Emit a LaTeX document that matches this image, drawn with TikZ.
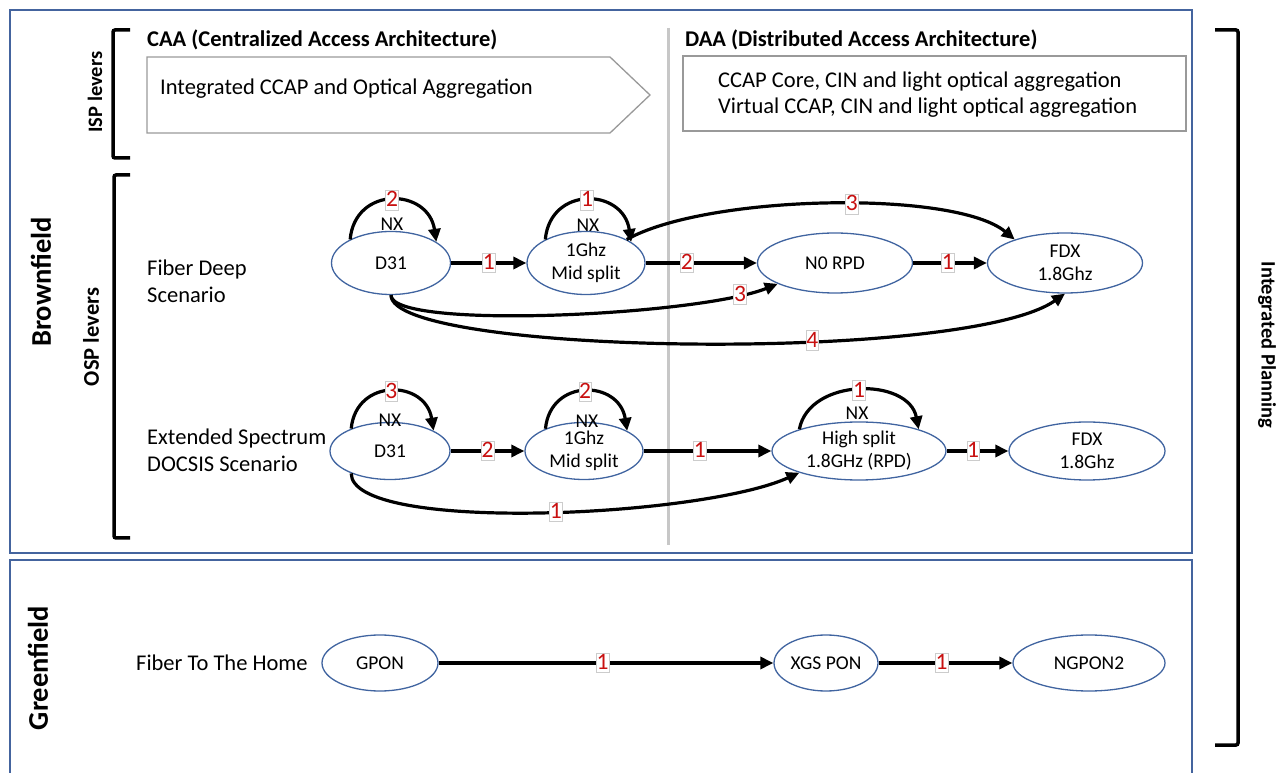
\documentclass[tikz,border=0pt]{standalone}
\usepackage{fontspec}
\setmainfont{Carlito}
\usetikzlibrary{arrows.meta,shapes.geometric,calc}
\definecolor{boxblue}{RGB}{68,100,158}
\definecolor{ellblue}{RGB}{64,100,160}
\definecolor{lblred}{RGB}{200,16,16}
\begin{document}
\begin{tikzpicture}[x=1pt,y=1pt,
  stage/.style={ellipse, draw=ellblue, line width=1.3pt, inner sep=0pt,
    font=\fontsize{19.5}{23}\selectfont, align=center},
  arr/.style={line width=3.2pt, -{Triangle[length=13pt,width=12pt]}},
  lbl/.style={fill=white, draw=black!20, line width=0.6pt, text=lblred,
    font=\fontsize{23.5}{23.5}\selectfont, inner xsep=0.4pt, inner ysep=1pt,
    text height=15.5pt, text depth=2pt},
  nx/.style={font=\fontsize{19.5}{19.5}\selectfont, inner sep=0pt},
  brk/.style={line width=3.5pt, rounded corners=2pt},
  txt/.style={inner sep=0pt, font=\fontsize{22.5}{27}\selectfont},
  head/.style={inner sep=0pt, font=\bfseries\fontsize{22.5}{27}\selectfont},
  area/.style={draw=boxblue, line width=1.4pt},
  graybox/.style={draw=black!40, line width=1.3pt},
  side/.style={inner sep=0pt, font=\bfseries\fontsize{28.5}{30}\selectfont}
]
\useasboundingbox (0,0) rectangle (1278,772);

% areas
\draw[area] (10,762) rectangle (1192,219);
\draw[area] (10,-2) -- (10,212) -- (1192,212) -- (1192,-2);

% separator
\draw[black!22, line width=3pt] (668,744) -- (668,227);

% brackets
\draw[brk] (130,742) -- (113,742) -- (113,614) -- (130,614);
\draw[brk] (130,597) -- (114,597) -- (114,234) -- (130,234);
\draw[brk] (1215,742) -- (1238,742) -- (1238,27) -- (1215,27);

% side labels
\node[side, rotate=90] (brown) at (41,490) {Brownfield};
\node[side, rotate=90] (green) at (38,104) {Greenfield};
\node[inner sep=0pt, font=\bfseries\fontsize{20.5}{22}\selectfont, rotate=90] (isp) at (95,680) {ISP levers};
\node[inner sep=0pt, font=\bfseries\fontsize{22.5}{24}\selectfont, rotate=90] (osp) at (91,435) {OSP levers};
\node[inner sep=0pt, font=\bfseries\fontsize{20.5}{22}\selectfont, rotate=-90] (ip) at (1267,427) {Integrated Planning};

% headers
\node[head, anchor=west] (caa) at (147,732) {CAA (Centralized Access Architecture)};
\node[head, anchor=west] (daa) at (685,732) {DAA (Distributed Access Architecture)};

% ISP boxes
\draw[graybox] (147,715) -- (610,715) -- (650,677) -- (610,639) -- (147,639) -- cycle;
\node[txt, anchor=west] (caatxt) at (160,683) {Integrated CCAP and Optical Aggregation};
\draw[graybox] (683,716) rectangle (1186,641);
\node[txt, anchor=west, align=left, font=\fontsize{22.5}{26}\selectfont] (daatxt) at (718,677)
  {CCAP Core, CIN and light optical aggregation\\Virtual CCAP, CIN and light optical aggregation};

% scenario labels
\node[txt, anchor=west, align=left] (sc1) at (147,491) {Fiber Deep\\Scenario};
\node[txt, anchor=west, align=left] (sc2) at (147,322) {Extended Spectrum\\DOCSIS Scenario};
\node[txt, anchor=west] (sc3) at (136,109) {Fiber To The Home};

% row 1
\node[stage, minimum width=119, minimum height=63] (d31a) at (391,509) {D31};
\node[stage, minimum width=118, minimum height=63] (mid1a) at (586,509) {1Ghz\\Mid split};
\node[stage, minimum width=155, minimum height=60] (n0) at (835,509) {N0 RPD};
\node[stage, minimum width=155, minimum height=60] (fdx1) at (1065,509) {FDX\\1.8Ghz};

% row 2
\node[stage, minimum width=120, minimum height=57] (d31b) at (390,321) {D31};
\node[stage, minimum width=118, minimum height=57] (mid1b) at (584,321) {1Ghz\\Mid split};
\node[stage, minimum width=174, minimum height=58] (hs) at (859,321) {High split\\1.8GHz (RPD)};
\node[stage, minimum width=156, minimum height=58] (fdx2) at (1087,321) {FDX\\1.8Ghz};

% row 3
\node[stage, minimum width=116, minimum height=56] (gpon) at (380,109) {GPON};
\node[stage, minimum width=104, minimum height=56] (xgs) at (826,109) {XGS PON};
\node[stage, minimum width=152, minimum height=56] (ngpon) at (1089,109) {NGPON2};

% NX labels
\node[nx] (nx1) at (392,548) {NX};
\node[nx] (nx2) at (588,547) {NX};
\node[nx] (nx3) at (390,352) {NX};
\node[nx] (nx4) at (587,351) {NX};
\node[nx] (nx5) at (857,359) {NX};

% row 1 edges
\draw[arr] (d31a.150) .. controls +(5,54) and +(-8,54) .. (d31a.25) node[lbl,pos=.5]{2};
\draw[arr] (mid1a.150) .. controls +(5,54) and +(-8,54) .. (mid1a.25) node[lbl,pos=.5]{1};
\draw[arr] (d31a) -- (mid1a) node[lbl,pos=.5]{1};
\draw[arr] (mid1a) -- (n0) node[lbl,pos=.37]{2};
\draw[arr] (n0) -- (fdx1) node[lbl,pos=.47]{1};
\draw[arr] (mid1a.30) .. controls +(80,45) and +(-60,50) .. (fdx1.155) node[lbl,pos=.55]{3};
\draw[arr] (d31a.south) .. controls +(0,-35) and +(-80,-32) .. (n0.200) node[lbl,pos=.88]{3};
\draw[arr] (d31a.south) .. controls +(0,-60) and +(-100,-70) .. (fdx1.south) node[lbl,pos=.63]{4};

% row 2 edges
\draw[arr] (d31b.150) .. controls +(5,51) and +(-8,51) .. (d31b.25) node[lbl,pos=.5]{3};
\draw[arr] (mid1b.150) .. controls +(5,51) and +(-8,51) .. (mid1b.25) node[lbl,pos=.5]{2};
\draw[arr] (hs.160) .. controls +(10,52) and +(-10,52) .. (hs.20) node[lbl,pos=.5]{1};
\draw[arr] (d31b) -- (mid1b) node[lbl,pos=.5]{2};
\draw[arr] (mid1b) -- (hs) node[lbl,pos=.44]{1};
\draw[arr] (hs) -- (fdx2) node[lbl,pos=.43]{1};
\draw[arr] (d31b.210) .. controls +(0,-60) and +(-100,-45) .. (hs.200) node[lbl,pos=.53]{1};

% row 3 edges
\draw[arr] (gpon) -- (xgs) node[lbl,pos=.49]{1};
\draw[arr] (xgs) -- (ngpon) node[lbl,pos=.47]{1};
\end{tikzpicture}
\end{document}
